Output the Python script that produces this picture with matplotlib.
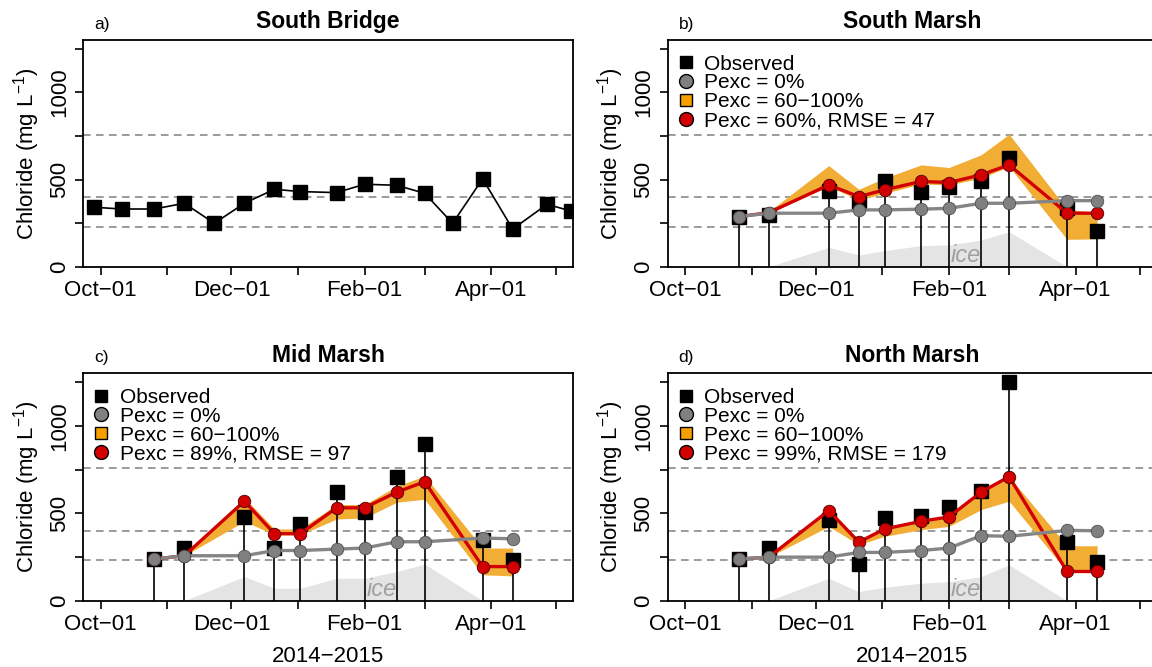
import numpy as np
import pandas as pd
import matplotlib
matplotlib.use('Agg')
import matplotlib.pyplot as plt
import matplotlib.dates as mdates
from matplotlib.ticker import FixedLocator, FixedFormatter
from matplotlib.lines import Line2D

plt.rcParams['font.family'] = ['Liberation Sans', 'DejaVu Sans']
plt.rcParams['mathtext.fontset'] = 'custom'
plt.rcParams['mathtext.rm'] = 'Liberation Sans'
plt.rcParams['mathtext.it'] = 'Liberation Sans:italic'

# ---- data ----
dates_a = pd.to_datetime(['2014-09-28', '2014-10-11', '2014-10-26', '2014-11-09', '2014-11-23',
                          '2014-12-07', '2014-12-21', '2015-01-02', '2015-01-19', '2015-02-01',
                          '2015-02-16', '2015-03-01', '2015-03-14', '2015-03-28', '2015-04-11',
                          '2015-04-27', '2015-05-08'])
south_bridge = [341, 331, 331, 364, 249, 364, 444, 431, 425, 473, 467, 421, 249, 504, 216, 358, 320]

dates_m = pd.to_datetime(['2014-10-26', '2014-11-09', '2014-12-07', '2014-12-21', '2015-01-02',
                          '2015-01-19', '2015-02-01', '2015-02-16', '2015-03-01', '2015-03-28',
                          '2015-04-11'])
ice_dates = pd.to_datetime(['2014-11-09', '2014-12-07', '2014-12-21', '2015-01-02', '2015-01-19',
                            '2015-02-01', '2015-02-16', '2015-03-01', '2015-03-28'])

# South Marsh
sm_obs = [287, 297, 437, 368, 494, 431, 460, 489, 623, 335, 207]
sm_p0 = [287, 307, 307, 326, 326, 330, 335, 364, 364, 379, 379]
sm_best = [287, 310, 469, 402, 441, 489, 483, 527, 584, 307, 307]
sm_lo = [287, 307, 460, 383, 421, 475, 469, 508, 575, 157, 160]
sm_hi = [287, 316, 580, 444, 508, 584, 569, 642, 760, 330, 310]
sm_ice = [0, 111, 67, 92, 121, 125, 153, 201, 0]

# Mid Marsh
mm_obs = [238, 301, 479, 301, 439, 621, 506, 707, 895, 345, 230]
mm_p0 = [238, 257, 257, 287, 287, 295, 301, 337, 337, 358, 354]
mm_best = [238, 257, 569, 383, 383, 531, 531, 621, 680, 195, 195]
mm_lo = [238, 257, 454, 377, 377, 467, 473, 563, 580, 148, 142]
mm_hi = [238, 262, 588, 410, 410, 550, 550, 655, 713, 301, 301]
mm_ice = [0, 138, 71, 71, 128, 128, 167, 209, 0]

# North Marsh
nm_obs = [238, 301, 460, 211, 473, 483, 536, 630, 1253, 335, 224]
nm_p0 = [238, 249, 249, 276, 276, 287, 301, 372, 368, 402, 400]
nm_best = [238, 249, 515, 335, 410, 454, 479, 621, 709, 167, 167]
nm_lo = [238, 249, 425, 320, 368, 406, 425, 521, 569, 167, 167]
nm_hi = [238, 252, 515, 349, 410, 454, 479, 621, 709, 314, 314]
nm_ice = [0, 128, 52, 77, 100, 109, 138, 205, 0]

ref_levels = [230, 398, 757]

month_ticks = pd.to_datetime(['2014-10-01', '2014-11-01', '2014-12-01', '2015-01-01',
                              '2015-02-01', '2015-03-01', '2015-04-01', '2015-05-01'])
month_labels = ['Oct\u221201', '', 'Dec\u221201', '', 'Feb\u221201', '', 'Apr\u221201', '']
y_ticks = [0, 250, 500, 750, 1000, 1250]
y_labels = ['0', '', '500', '', '1000', '']

ORANGE = '#f2ad35'
RED = '#d20000'
GREY = '#858585'

x0 = pd.Timestamp('2014-10-01') - pd.Timedelta(days=8.1)
x1 = pd.Timestamp('2014-10-01') + pd.Timedelta(days=220.1)


def setup(ax, letter, title, xlabel=False):
    ax.set_xlim(x0, x1)
    ax.set_ylim(0, 1300)
    ax.xaxis.set_major_locator(FixedLocator(mdates.date2num(month_ticks)))
    ax.xaxis.set_major_formatter(FixedFormatter(month_labels))
    ax.yaxis.set_major_locator(FixedLocator(y_ticks))
    ax.yaxis.set_major_formatter(FixedFormatter(y_labels))
    ax.tick_params(length=6, width=1.2, labelsize=16, pad=3.5, color='black')
    for lbl in ax.get_yticklabels():
        lbl.set_rotation(90)
        lbl.set_va('center')
    for s in ax.spines.values():
        s.set_linewidth(1.3)
    ax.set_ylabel('Chloride (mg L$^{\\mathregular{\u22121}}$)', fontsize=16)
    ax.yaxis.set_label_coords(-0.085, 0.5)
    ax.set_title(title, fontsize=16.5, fontweight='bold', pad=8.4)
    ax.text(0.0227, 1.0485, letter + ')', transform=ax.transAxes, fontsize=12.5,
            ha='left', va='baseline')
    for v in ref_levels:
        ax.axhline(v, color='#808080', lw=1.1, ls=(0, (5, 3.5)), zorder=2)
    if xlabel:
        ax.set_xlabel('2014\u22122015', fontsize=16)
        ax.xaxis.set_label_coords(0.5, -0.2)


def marsh(ax, obs, p0, best, lo, hi, ice, best_label):
    ax.fill_between(ice_dates, 0, ice, color='#e4e4e4', lw=0, zorder=1)
    ax.text(pd.Timestamp('2015-02-09'), 62, 'ice', style='italic', color='#a0a0a0',
            fontsize=17, ha='center', va='center', zorder=1.5)
    ax.fill_between(dates_m, lo, hi, color=ORANGE, lw=0, zorder=3)
    ax.vlines(dates_m, 0, obs, color='black', lw=1.2, zorder=4)
    ax.plot(dates_m, obs, 's', color='black', ms=9.5, zorder=5)
    ax.plot(dates_m, best, '-o', color=RED, lw=2.4, mfc=RED, mec='#500000',
            mew=0.6, ms=9, zorder=6)
    ax.plot(dates_m, p0, '-o', color=GREY, lw=2.4, mfc='#808080', mec='#505050',
            mew=0.6, ms=9, zorder=7)
    handles = [
        Line2D([], [], ls='none', marker='s', color='black', ms=8.5),
        Line2D([], [], ls='none', marker='o', mfc='#808080', mec='black', mew=1.0, ms=10),
        Line2D([], [], ls='none', marker='s', mfc='#f5a000', mec='black', mew=1.0, ms=8.5),
        Line2D([], [], ls='none', marker='o', mfc=RED, mec='black', mew=1.0, ms=10),
    ]
    labels = ['Observed', 'Pexc = 0%', 'Pexc = 60\u2212100%', best_label]
    ax.legend(handles, labels, loc='upper left', bbox_to_anchor=(0, 0.97), frameon=False,
              fontsize=15, handlelength=1.0, handletextpad=0.375, borderpad=0.375,
              borderaxespad=0, labelspacing=-0.01)


fig = plt.figure(figsize=(11.52, 6.67), dpi=100)
ax_a = fig.add_axes([0.0722, 0.6001, 0.4252, 0.3399])
ax_b = fig.add_axes([0.5795, 0.6001, 0.4252, 0.3399])
ax_c = fig.add_axes([0.0722, 0.0994, 0.4252, 0.3409])
ax_d = fig.add_axes([0.5795, 0.0994, 0.4252, 0.3409])

setup(ax_a, 'a', 'South Bridge')
ax_a.plot(dates_a, south_bridge, '-s', color='black', lw=1.2, ms=9.5, zorder=5)

setup(ax_b, 'b', 'South Marsh')
marsh(ax_b, sm_obs, sm_p0, sm_best, sm_lo, sm_hi, sm_ice, 'Pexc = 60%, RMSE = 47')

setup(ax_c, 'c', 'Mid Marsh', xlabel=True)
marsh(ax_c, mm_obs, mm_p0, mm_best, mm_lo, mm_hi, mm_ice, 'Pexc = 89%, RMSE = 97')

setup(ax_d, 'd', 'North Marsh', xlabel=True)
marsh(ax_d, nm_obs, nm_p0, nm_best, nm_lo, nm_hi, nm_ice, 'Pexc = 99%, RMSE = 179')

fig.savefig('out.png', dpi=100)
